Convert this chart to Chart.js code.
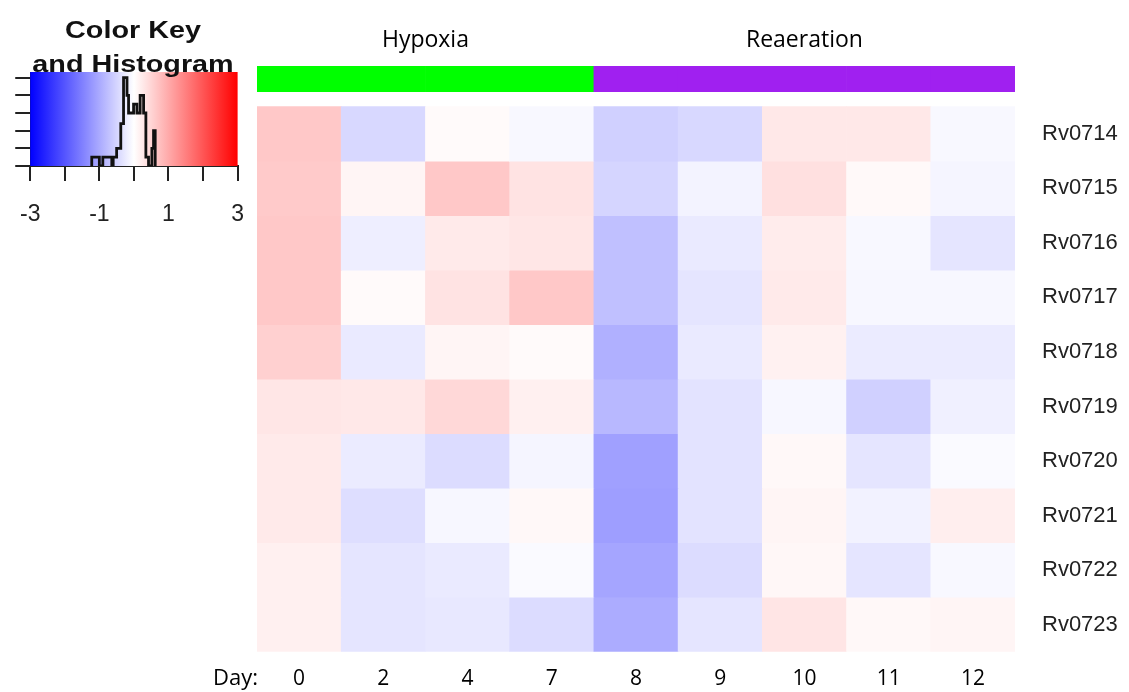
<!DOCTYPE html>
<html>
<head>
<meta charset="utf-8">
<script src="https://cdn.jsdelivr.net/npm/chart.js@4.4.1/dist/chart.umd.min.js"></script>
<style>
  html, body { margin: 0; padding: 0; background: #fff; }
  #wrap { position: relative; width: 1129px; height: 692px; }
  #heat { position: absolute; left: 0; top: 0; }
  #key { position: absolute; left: 0; top: 0; }
</style>
</head>
<body>
<div id="wrap">
  <canvas id="heat" width="1129" height="692"></canvas>
  <canvas id="key" width="264" height="240"></canvas>
</div>
<script>
const days = ["0", "2", "4", "7", "8", "9", "10", "11", "12"];
const genes = ["Rv0714", "Rv0715", "Rv0716", "Rv0717", "Rv0718",
               "Rv0719", "Rv0720", "Rv0721", "Rv0722", "Rv0723"];

// log-ratio per gene, one value per day
const rv0714 = [0.65, -0.46, 0.06, -0.08, -0.55, -0.46, 0.27, 0.27, -0.08];
const rv0715 = [0.62, 0.12, 0.65, 0.33, -0.50, -0.14, 0.36, 0.07, -0.12];
const rv0716 = [0.65, -0.20, 0.25, 0.30, -0.74, -0.25, 0.22, -0.08, -0.31];
const rv0717 = [0.65, 0.06, 0.33, 0.65, -0.74, -0.31, 0.25, -0.10, -0.10];
const rv0718 = [0.55, -0.25, 0.12, 0.06, -0.93, -0.25, 0.16, -0.23, -0.23];
const rv0719 = [0.30, 0.27, 0.46, 0.18, -0.84, -0.33, -0.09, -0.55, -0.18];
const rv0720 = [0.25, -0.24, -0.41, -0.12, -1.12, -0.33, 0.08, -0.31, -0.06];
const rv0721 = [0.25, -0.39, -0.09, 0.08, -1.14, -0.33, 0.12, -0.15, 0.20];
const rv0722 = [0.18, -0.31, -0.25, -0.06, -1.06, -0.41, 0.09, -0.31, -0.08];
const rv0723 = [0.18, -0.31, -0.27, -0.41, -0.98, -0.31, 0.31, 0.08, 0.12];
const rows = [rv0714, rv0715, rv0716, rv0717, rv0718, rv0719, rv0720, rv0721, rv0722, rv0723];

// sample groups
const groupNames = ["Hypoxia", "Reaeration"];
const dayGroup = [0, 0, 0, 0, 1, 1, 1, 1, 1];

// color key histogram (step outline)
const histBreaks = [-1.22, -1.0, -0.9, -0.64, -0.6, -0.5, -0.38, -0.3, -0.2, -0.155,
                    -0.01, 0.086, 0.18, 0.28, 0.346, 0.423, 0.52, 0.568, 0.616];
const histHeights = [0.5, 0, 0.5, 0, 0.5, 1.0, 2.4, 5.0, 4.0, 3.0,
                     3.5, 3.0, 4.0, 3.0, 0.5, 0, 1.0, 2.0];
const keyTicks = [-3, -2, -1, 0, 1, 2, 3];
const keyLabels = ["-3", "", "-1", "", "1", "", "3"];

const groupColors = ["#00FF00", "#A020F0"];

function cellColor(v) {
  const t = Math.min(Math.abs(v), 3) / 3;
  const c = Math.round(255 * (1 - t));
  return v >= 0 ? `rgb(255,${c},${c})` : `rgb(${c},${c},255)`;
}

const BAND_TOP = -0.745, BAND_BOTTOM = -0.273;

const heatDatasets = rows.map((vals, r) => ({
  label: genes[r],
  data: days.map(() => [r, r + 1]),
  backgroundColor: vals.map(cellColor),
  borderWidth: 0
}));
heatDatasets.push({
  label: "group",
  data: days.map(() => [BAND_TOP, BAND_BOTTOM]),
  backgroundColor: dayGroup.map(g => groupColors[g]),
  borderWidth: 0
});

// group names above the colored band, plus the "Day:" label
const heatText = {
  id: "heatText",
  afterDraw(chart) {
    const { ctx, chartArea, scales } = chart;
    const x = scales.x;
    const half = (x.getPixelForValue(1) - x.getPixelForValue(0)) / 2;
    ctx.save();
    ctx.fillStyle = "#000";
    ctx.font = '23px "Open Sans"';
    ctx.textAlign = "center";
    ctx.textBaseline = "alphabetic";
    groupNames.forEach((name, g) => {
      const idx = dayGroup.map((d, i) => d === g ? i : -1).filter(i => i >= 0);
      const left = x.getPixelForValue(idx[0]) - half;
      const right = x.getPixelForValue(idx[idx.length - 1]) + half;
      ctx.fillText(name, (left + right) / 2, chartArea.top - 19);
    });
    ctx.font = '22px "Open Sans"';
    ctx.textAlign = "right";
    ctx.textBaseline = "middle";
    ctx.fillText("Day:", chartArea.left + 1, chartArea.bottom + 27);
    ctx.restore();
  }
};

new Chart(document.getElementById("heat"), {
  type: "bar",
  data: { labels: days, datasets: heatDatasets },
  options: {
    responsive: false,
    animation: false,
    layout: { padding: { left: 257, top: 66, right: 0, bottom: 0 } },
    datasets: { bar: { grouped: false, barPercentage: 1, categoryPercentage: 1 } },
    plugins: { legend: { display: false }, tooltip: { enabled: false } },
    scales: {
      x: {
        grid: { display: false, drawTicks: false },
        border: { display: false },
        ticks: { font: { family: "Open Sans", size: 21 }, color: "#000", padding: 15, maxRotation: 0 },
        afterFit: s => { s.height = 35; }
      },
      y: {
        type: "linear",
        position: "right",
        min: BAND_TOP,
        max: 10,
        reverse: true,
        grid: { display: false, drawTicks: false },
        border: { display: false },
        afterBuildTicks: s => { s.ticks = genes.map((g, i) => ({ value: i + 0.5 })); },
        ticks: {
          font: { family: "Liberation Sans", size: 22 },
          color: "#222",
          padding: 27,
          callback: (v, i) => genes[i]
        },
        afterFit: s => { s.width = 114; }
      }
    }
  },
  plugins: [heatText]
});

// color key: gradient behind, title on top
const keyDecor = {
  id: "keyDecor",
  beforeDatasetsDraw(chart) {
    const { ctx, chartArea: a } = chart;
    const g = ctx.createLinearGradient(a.left, 0, a.right, 0);
    g.addColorStop(0, "#0000FF");
    g.addColorStop(0.5, "#FFFFFF");
    g.addColorStop(1, "#FF0000");
    ctx.save();
    ctx.fillStyle = g;
    ctx.fillRect(a.left, a.top, a.right - a.left, a.bottom - a.top);
    ctx.restore();
  },
  afterDraw(chart) {
    const { ctx } = chart;
    ctx.save();
    ctx.fillStyle = "#111";
    ctx.font = 'bold 23px "Liberation Sans"';
    ctx.textAlign = "center";
    ctx.textBaseline = "alphabetic";
    [["Color Key", 38], ["and Histogram", 72]].forEach(([t, y]) => {
      ctx.save();
      ctx.translate(133, y);
      ctx.scale(1.25, 1);
      ctx.fillText(t, 0, 0);
      ctx.restore();
    });
    ctx.restore();
  }
};

const histPoints = [{ x: histBreaks[0], y: 0 }];
histHeights.forEach((h, i) => histPoints.push({ x: histBreaks[i], y: h }));
histPoints.push({ x: histBreaks[histBreaks.length - 1], y: 0 });

new Chart(document.getElementById("key"), {
  type: "line",
  data: {
    datasets: [{
      data: histPoints,
      stepped: "before",
      borderColor: "#111",
      borderWidth: 2.8,
      pointRadius: 0,
      fill: false
    }]
  },
  options: {
    responsive: false,
    animation: false,
    layout: { padding: { left: 0, top: 72, right: 19, bottom: 0 } },
    plugins: { legend: { display: false }, tooltip: { enabled: false } },
    scales: {
      x: {
        type: "linear",
        min: -3,
        max: 3,
        afterBuildTicks: s => { s.ticks = keyTicks.map(v => ({ value: v })); },
        grid: { drawOnChartArea: false, drawTicks: true, tickLength: 15, color: "#222", lineWidth: 2 },
        border: { display: true, color: "#222", width: 2 },
        ticks: {
          font: { family: "Liberation Sans", size: 23 },
          color: "#222",
          padding: 20,
          maxRotation: 0,
          autoSkip: false,
          callback: (v, i) => keyLabels[i]
        },
        afterFit: s => { s.height = 74; }
      },
      y: {
        type: "linear",
        min: 0,
        max: 5.32,
        afterBuildTicks: s => { s.ticks = [0, 1, 2, 3, 4, 5].map(v => ({ value: v })); },
        grid: { drawOnChartArea: false, drawTicks: true, tickLength: 15, color: "#222", lineWidth: 2 },
        border: { display: true, color: "#222", width: 1 },
        ticks: { display: false },
        afterFit: s => { s.width = 29.5; }
      }
    }
  },
  plugins: [keyDecor]
});
</script>
</body>
</html>
